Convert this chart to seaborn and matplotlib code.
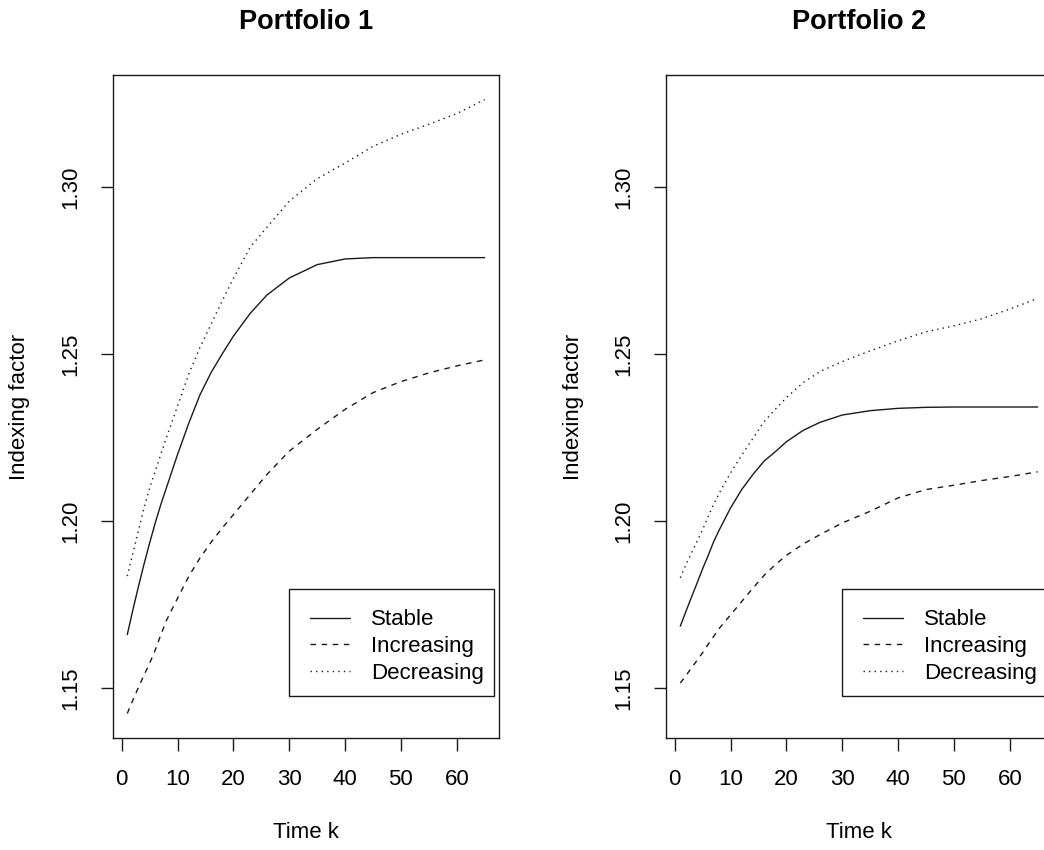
import numpy as np
import pandas as pd
import matplotlib
matplotlib.use("Agg")
import matplotlib.pyplot as plt
from matplotlib.patches import Rectangle
import seaborn as sns

# Time points at which the indexing factor is tabulated
k = [1, 2, 3, 4, 5, 6, 7, 8, 10, 12, 14, 16, 18, 20, 23, 26, 30, 35, 40, 45, 50, 55, 60, 65]

# Portfolio 1
p1_stable = [1.1661, 1.1735, 1.1805, 1.1872, 1.1935, 1.1995, 1.2050, 1.2100, 1.2200, 1.2293,
             1.2378, 1.2445, 1.2501, 1.2554, 1.2622, 1.2677, 1.2728, 1.2768, 1.2785, 1.2789,
             1.2789, 1.2789, 1.2789, 1.2789]
p1_increasing = [1.1425, 1.1465, 1.1503, 1.1540, 1.1575, 1.1615, 1.1660, 1.1703, 1.1770, 1.1835,
                 1.1890, 1.1937, 1.1980, 1.2020, 1.2080, 1.2140, 1.2210, 1.2275, 1.2335, 1.2385,
                 1.2418, 1.2444, 1.2465, 1.2483]
p1_decreasing = [1.1836, 1.1905, 1.1972, 1.2040, 1.2100, 1.2150, 1.2200, 1.2250, 1.2345, 1.2440,
                 1.2520, 1.2590, 1.2660, 1.2727, 1.2820, 1.2880, 1.2958, 1.3025, 1.3072, 1.3122,
                 1.3158, 1.3188, 1.3220, 1.3262]

# Portfolio 2
p2_stable = [1.1686, 1.1730, 1.1773, 1.1815, 1.1858, 1.1898, 1.1940, 1.1975, 1.2040, 1.2095,
             1.2140, 1.2180, 1.2208, 1.2238, 1.2272, 1.2296, 1.2318, 1.2331, 1.2338, 1.2341,
             1.2342, 1.2342, 1.2342, 1.2342]
p2_increasing = [1.1516, 1.1538, 1.1561, 1.1584, 1.1607, 1.1632, 1.1656, 1.1680, 1.1720, 1.1760,
                 1.1800, 1.1838, 1.1870, 1.1898, 1.1932, 1.1960, 1.1995, 1.2030, 1.2070, 1.2095,
                 1.2108, 1.2122, 1.2134, 1.2148]
p2_decreasing = [1.1831, 1.1870, 1.1905, 1.1940, 1.1975, 1.2015, 1.2052, 1.2085, 1.2145, 1.2198,
                 1.2248, 1.2298, 1.2335, 1.2370, 1.2415, 1.2448, 1.2478, 1.2510, 1.2540, 1.2567,
                 1.2585, 1.2606, 1.2635, 1.2667]

scenarios = ["Stable", "Increasing", "Decreasing"]
titles = ["Portfolio 1", "Portfolio 2"]
x_ticks = [0, 10, 20, 30, 40, 50, 60]
y_ticks = [1.15, 1.20, 1.25, 1.30]

portfolios = [
    {"Stable": p1_stable, "Increasing": p1_increasing, "Decreasing": p1_decreasing},
    {"Stable": p2_stable, "Increasing": p2_increasing, "Decreasing": p2_decreasing},
]

frames = []
for title, series in zip(titles, portfolios):
    for name in scenarios:
        frames.append(pd.DataFrame({"k": k, "factor": series[name],
                                    "scenario": name, "portfolio": title}))
df = pd.concat(frames, ignore_index=True)

sns.set_style("ticks")
plt.rcParams["font.family"] = ["Liberation Sans", "DejaVu Sans"]
plt.rcParams["text.color"] = "black"
plt.rcParams["axes.labelcolor"] = "black"
plt.rcParams["axes.linewidth"] = 1.0
plt.rcParams["xtick.major.width"] = 1.0
plt.rcParams["ytick.major.width"] = 1.0

ink = "#1a1a1a"
dash_map = {"Stable": "", "Increasing": (4, 4), "Decreasing": (1, 3)}

# R-style 4% padding around the pooled data range
ymin, ymax = df["factor"].min(), df["factor"].max()
ypad = 0.04 * (ymax - ymin)
xmin, xmax = min(k), max(k)
xpad = 0.04 * (xmax - xmin)

fig = plt.figure(figsize=(10.44, 8.5), dpi=100)
W, H = 1044.0, 850.0
ax_w = 386.0 / W
ax_h = 663.0 / H
ax_b = (850.0 - 738.0) / H
lefts = [113.0 / W, 666.0 / W]

for left, title in zip(lefts, titles):
    ax = fig.add_axes([left, ax_b, ax_w, ax_h])
    sub = df[df["portfolio"] == title]
    sns.lineplot(data=sub, x="k", y="factor", style="scenario",
                 style_order=scenarios, dashes=dash_map, color=ink,
                 linewidth=1.0, ax=ax, legend=False)
    ax.set_xlim(xmin - xpad, xmax + xpad)
    ax.set_ylim(ymin - ypad, ymax + ypad)
    ax.set_xticks(x_ticks)
    ax.set_yticks(y_ticks)
    ax.set_yticklabels([f"{v:.2f}" for v in y_ticks], rotation=90, va="center")
    ax.tick_params(axis="both", direction="out", length=9, labelsize=16,
                   colors=ink, labelcolor="black")
    ax.tick_params(axis="y", pad=14)
    ax.tick_params(axis="x", pad=13)
    for sp in ax.spines.values():
        sp.set_visible(True)
        sp.set_color(ink)

    ax.set_xlabel("Time k", fontsize=16, color="black")
    ax.xaxis.set_label_coords(0.5, (738.0 - 833.0) / 663.0)
    ax.xaxis.label.set_va("center")
    ax.set_ylabel("Indexing factor", fontsize=16, color="black")
    ax.yaxis.set_label_coords((20.0 - 113.0) / 386.0, 0.5)
    ax.yaxis.label.set_va("center")

    ax.text(0.5, 1.0 + (75.0 - 22.0) / 663.0, title, transform=ax.transAxes,
            ha="center", va="center", fontsize=19.5, fontweight="bold",
            color="black")

    # Legend entries, with a plain box drawn around them
    handles = ax.get_lines()[:3]
    leg = ax.legend(handles, scenarios, loc="center left",
                    bbox_to_anchor=(0.51, (738.0 - 646.5) / 663.0),
                    bbox_transform=ax.transAxes, borderaxespad=0, borderpad=0,
                    fontsize=16, frameon=False, handlelength=1.8,
                    handletextpad=0.95, labelspacing=0.25)
    for t in leg.get_texts():
        t.set_color("black")
    ax.add_patch(Rectangle((0.457, (738.0 - 696.0) / 663.0), 205.0 / 386.0, 107.0 / 663.0,
                           transform=ax.transAxes, fill=False, edgecolor=ink,
                           linewidth=1.0, clip_on=False, zorder=5))

fig.savefig("out.png", dpi=100)
